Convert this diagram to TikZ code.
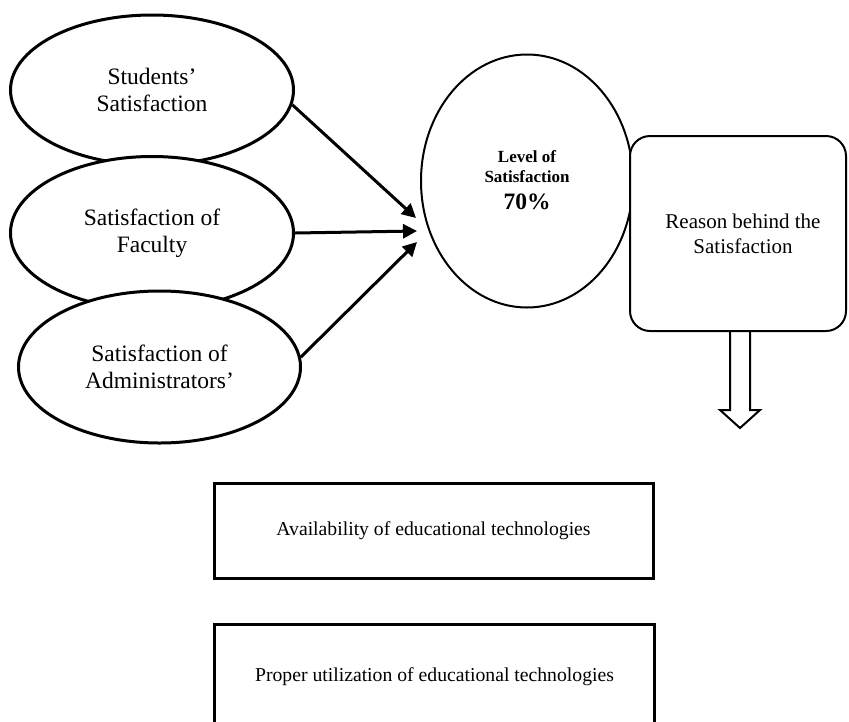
\documentclass[tikz,border=0pt]{standalone}
\usepackage{fontspec}
\setmainfont{Liberation Serif}
\usetikzlibrary{arrows.meta,shapes.geometric}
\begin{document}
\begin{tikzpicture}[x=1pt,y=-1pt,
  oval/.style={ellipse, draw, line width=3pt, fill=white, inner sep=0pt,
    minimum width=283pt, minimum height=150pt, align=center,
    font=\fontsize{23.5}{27}\selectfont},
  lvloval/.style={ellipse, draw, line width=2pt, fill=white, inner sep=0pt,
    minimum width=212pt, minimum height=253pt, align=center},
  lvltext/.style={font=\bfseries\fontsize{17}{20}\selectfont, align=center, inner sep=0pt},
  pcttext/.style={font=\bfseries\fontsize{23.5}{26}\selectfont, inner sep=0pt},
  reasonbox/.style={rectangle, draw, line width=2pt, fill=white, rounded corners=20pt,
    inner sep=0pt, minimum width=216pt, minimum height=195pt, align=center,
    font=\fontsize{21}{25}\selectfont},
  techbox/.style={rectangle, draw, line width=3pt, fill=white, inner sep=0pt,
    minimum width=439pt, align=center, font=\fontsize{19.7}{23}\selectfont},
  conn/.style={line width=3pt, -{Triangle[length=14pt,width=14pt]}},
  hollow/.style={line width=2pt, line join=miter}
]
\useasboundingbox (0,0) rectangle (849,721);

\node[oval] (s1) at (152,90) {Students’\\Satisfaction};
\node[oval, minimum height=153pt] (s2) at (152,233) {Satisfaction of\\Faculty};
\node[oval, minimum width=282pt, minimum height=152pt] (s3) at (159.5,367) {Satisfaction of\\Administrators’};

\node[lvloval] (lvl) at (527,181) {};
\node[lvltext] (lvlt) at (527,167) {Level of\\Satisfaction};
\node[pcttext] (pct) at (527,202) {70\%};

\node[reasonbox] (r) at (738,233.5) {\hspace*{10pt}Reason behind the\\\hspace*{10pt}Satisfaction};

\node[techbox, minimum height=95pt] (b1) at (433.5,531) {Availability of educational technologies};
\node[techbox, minimum width=440pt, minimum height=105pt] (b2) at (434.5,677) {Proper utilization of educational technologies};

\coordinate (t1) at (416,218);
\coordinate (t2) at (417,231);
\coordinate (t3) at (417,242);
\draw[conn] (s1.-6) -- (t1);
\draw[conn] (s2.east) -- (t2);
\draw[conn] (s3.4) -- (t3);

\coordinate (ha) at (740,332);
\draw[hollow] (ha) ++(-10,0) -- ++(0,78) -- ++(-10,0) -- ++(20,18) -- ++(20,-18) -- ++(-10,0) -- ++(0,-78);
\end{tikzpicture}
\end{document}
